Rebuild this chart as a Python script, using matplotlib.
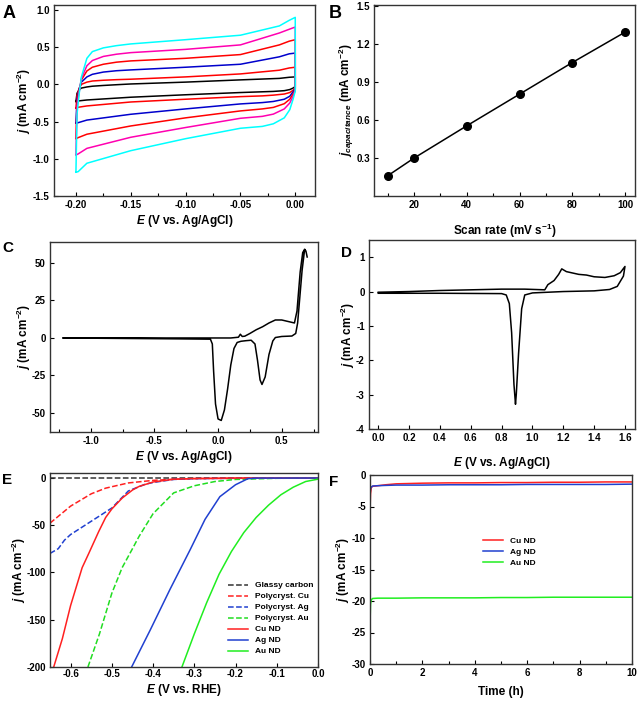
import matplotlib
matplotlib.use("Agg")
import matplotlib.pyplot as plt
from matplotlib.ticker import MultipleLocator, FormatStrFormatter

plt.rcParams["font.family"] = "Liberation Sans"
plt.rcParams["font.weight"] = "bold"
plt.rcParams["axes.unicode_minus"] = False
plt.rcParams["mathtext.fontset"] = "custom"
plt.rcParams["mathtext.rm"] = "Liberation Sans:bold"
plt.rcParams["mathtext.it"] = "Liberation Sans:bold:italic"
plt.rcParams["mathtext.bf"] = "Liberation Sans:bold"

# === Panel A: CVs at 10..100 mV/s (upper branch -0.2 -> 0, lower branch 0 -> -0.2) ===
A_COLORS = ["black", "red", "#0000cc", "red", "#ff00b0", "#00ffff"]
A_UP_X = [-0.2, -0.199, -0.197, -0.195, -0.19, -0.185, -0.175, -0.163, -0.15,
          -0.1, -0.05, -0.0145, -0.0055, 0.0]
A_UP_Y = [
    [-0.23, -0.12, -0.07, -0.05, -0.035, -0.025, -0.015, -0.005, 0.005, 0.03, 0.06, 0.08, 0.095, 0.10],
    [-0.32, -0.15, -0.05, 0.0, 0.03, 0.045, 0.055, 0.063, 0.069, 0.10, 0.14, 0.19, 0.22, 0.23],
    [-0.52, -0.20, -0.06, 0.03, 0.10, 0.135, 0.165, 0.183, 0.194, 0.23, 0.27, 0.37, 0.41, 0.42],
    [-0.72, -0.25, -0.08, 0.06, 0.18, 0.23, 0.27, 0.298, 0.315, 0.35, 0.40, 0.53, 0.58, 0.60],
    [-0.94, -0.30, -0.10, 0.08, 0.25, 0.32, 0.375, 0.405, 0.426, 0.47, 0.53, 0.69, 0.74, 0.77],
    [-1.18, -0.40, -0.12, 0.10, 0.35, 0.44, 0.49, 0.52, 0.543, 0.60, 0.66, 0.785, 0.86, 0.90],
]
A_LOW_X = [0.0, -0.002, -0.005, -0.01, -0.02, -0.03, -0.05, -0.1, -0.15, -0.19, -0.198, -0.2]
A_LOW_Y = [
    [-0.03, -0.05, -0.07, -0.085, -0.095, -0.10, -0.11, -0.14, -0.173, -0.21, -0.223, -0.23],
    [-0.05, -0.08, -0.11, -0.13, -0.145, -0.155, -0.165, -0.20, -0.237, -0.29, -0.308, -0.32],
    [-0.06, -0.10, -0.16, -0.20, -0.23, -0.245, -0.263, -0.33, -0.402, -0.48, -0.515, -0.52],
    [-0.07, -0.13, -0.20, -0.26, -0.31, -0.33, -0.357, -0.45, -0.559, -0.67, -0.716, -0.73],
    [-0.08, -0.16, -0.25, -0.33, -0.40, -0.43, -0.456, -0.58, -0.711, -0.86, -0.935, -0.95],
    [-0.09, -0.20, -0.34, -0.45, -0.53, -0.565, -0.59, -0.73, -0.891, -1.06, -1.173, -1.18],
]

# === Panel B: capacitive current vs scan rate ===
B_RATE = [10, 20, 40, 60, 80, 100]
B_JCAP = [0.16, 0.30, 0.555, 0.805, 1.055, 1.295]

# === Panel C: CV (wide window) ===
C_E = [0.70, 0.69, 0.68, 0.665, 0.645, 0.62, 0.60, 0.55, 0.50, 0.45, 0.40, 0.35, 0.30,
       0.25, 0.21, 0.19, 0.175, 0.16, 0.10, -0.2, -1.22,
       -0.3, -0.06, -0.045, -0.035, -0.02, 0.0, 0.025, 0.05, 0.075, 0.10, 0.125, 0.15, 0.18,
       0.22, 0.26, 0.29, 0.31, 0.33, 0.345, 0.37, 0.40, 0.43, 0.45, 0.50, 0.58, 0.61,
       0.625, 0.64, 0.66, 0.68]
C_J = [54, 58, 59, 57, 44, 18, 10, 11, 12, 12, 10, 7.5, 5.5,
       3, 1.2, 1.0, 2.5, 0.5, 0.0, 0.0, 0.0,
       -0.6, -0.8, -4, -22, -44, -54, -55, -48, -34, -18, -7, -3, -2.2,
       -1.8, -1.5, -4, -15, -28, -31, -26, -11, -2, 0.3, 1.0, 1.3, 3,
       10, 25, 45, 59]

# === Panel D: CV ===
D_E = [0.0, 0.2, 0.4, 0.6, 0.8, 0.95, 1.08, 1.10, 1.14, 1.17, 1.19, 1.22, 1.30, 1.35,
       1.40, 1.47, 1.53, 1.57, 1.60,
       1.59, 1.55, 1.50, 1.40, 1.20, 1.00, 0.95, 0.93, 0.91, 0.895, 0.89, 0.88, 0.865,
       0.85, 0.83, 0.80, 0.40, 0.0]
D_J = [-0.02, 0.0, 0.03, 0.05, 0.07, 0.07, 0.05, 0.20, 0.32, 0.50, 0.66, 0.58, 0.50, 0.48,
       0.43, 0.41, 0.46, 0.55, 0.73,
       0.45, 0.15, 0.06, 0.02, 0.0, -0.04, -0.10, -0.50, -1.80, -3.0, -3.28, -2.70, -1.20,
       -0.35, -0.10, -0.06, -0.05, -0.05]

# === Panel E: LSVs ===
E_LABELS = ["Glassy carbon", "Polycryst. Cu", "Polycryst. Ag", "Polycryst. Au",
            "Cu ND", "Ag ND", "Au ND"]
E_COLORS = ["#333333", "#ff2020", "#2040d0", "#20dd20", "#ff2020", "#2040d0", "#20ee20"]
E_STYLES = ["--", "--", "--", "--", "-", "-", "-"]
E_X = [
    [-0.65, -0.4, 0.0],
    [-0.65, -0.6, -0.55, -0.515, -0.46, -0.4, -0.35, -0.3, -0.2, 0.0],
    [-0.65, -0.63, -0.625, -0.615, -0.6, -0.55, -0.5, -0.46, -0.42, -0.4, -0.35, -0.3, -0.2, 0.0],
    [-0.558, -0.53, -0.5, -0.475, -0.45, -0.434, -0.4, -0.35, -0.3, -0.25, -0.2, -0.1, 0.0],
    [-0.641, -0.62, -0.6, -0.572, -0.556, -0.532, -0.515, -0.5, -0.475, -0.45, -0.434, -0.4, -0.35, -0.3, -0.2, 0.0],
    [-0.452, -0.407, -0.359, -0.31, -0.274, -0.238, -0.20, -0.17, -0.15, 0.0],
    [-0.33, -0.3, -0.27, -0.24, -0.21, -0.18, -0.15, -0.12, -0.09, -0.06, -0.03, 0.0],
]
E_J = [
    [-0.3, -0.3, -0.3],
    [-48, -30, -17, -11, -5.5, -2.8, -1.6, -1.0, -0.6, -0.3],
    [-80, -75, -72, -66, -60, -46, -32, -14, -7, -5, -1.8, -1.0, -0.6, -0.3],
    [-200, -165, -122, -95, -75, -62, -38, -16, -8.5, -4, -1.8, -0.6, -0.3],
    [-200, -170, -135, -95, -80, -57, -42, -33, -21.5, -13, -9.2, -4.5, -1.6, -0.8, -0.3, -0.3],
    [-200, -161, -118, -76, -44, -20, -7.4, -1.0, -0.4, -0.3],
    [-200, -165, -132, -102, -78, -58, -42, -29, -18, -10, -4, -1.5],
]

# === Panel F: chronoamperometry ===
F_LABELS = ["Cu ND", "Ag ND", "Au ND"]
F_COLORS = ["#ff2020", "#2040d0", "#20ee20"]
F_T = [0, 0.02, 0.05, 0.1, 0.3, 0.6, 1, 2, 3, 4, 5, 6, 7, 8, 9, 10]
F_J = [
    [-5.8, -3.0, -2.0, -1.8, -1.7, -1.55, -1.4, -1.3, -1.25, -1.25, -1.2, -1.2, -1.15, -1.15, -1.1, -1.1],
    [-3.2, -2.2, -1.9, -1.75, -1.7, -1.65, -1.6, -1.6, -1.55, -1.55, -1.55, -1.5, -1.5, -1.5, -1.5, -1.45],
    [-23.8, -20.5, -19.8, -19.6, -19.55, -19.55, -19.55, -19.5, -19.5, -19.5, -19.45, -19.45, -19.4, -19.4, -19.4, -19.4],
]

J_LABEL = r"$\mathit{j}$ (mA cm$^{-2}$)"
E_AGCL = r"$\mathit{E}$ (V vs. Ag/AgCl)"

W, H = 640, 705


def add_axes(fig, left, top, right, bottom):
    return fig.add_axes([left / W, 1 - bottom / H, (right - left) / W, (bottom - top) / H])


def style(ax, xlabel, ylabel, xl_y, yl_x, xpad=3):
    for s in ax.spines.values():
        s.set_linewidth(1.0)
        s.set_color("#333333")
    ax.tick_params(which="both", direction="in", labelsize=7, pad=3, width=0.8)
    ax.tick_params(axis="x", which="both", pad=xpad)
    ax.tick_params(which="major", length=3)
    ax.tick_params(which="minor", length=2.5)
    ax.set_xlabel(xlabel, fontsize=8.5, fontweight="bold")
    ax.set_ylabel(ylabel, fontsize=8.5, fontweight="bold")
    ax.xaxis.set_label_coords(0.5, xl_y)
    ax.yaxis.set_label_coords(yl_x, 0.5)


def cv_legend(ax, anchor):
    ax.legend(loc="upper left", bbox_to_anchor=anchor, frameon=False,
              fontsize=6, handlelength=2.4, labelspacing=0.38, borderpad=0,
              borderaxespad=0, handletextpad=0.8)


fig = plt.figure(figsize=(W / 100, H / 100), dpi=100)

# --- A ---
ax = add_axes(fig, 54, 5, 315, 196)
for c, up, low in zip(A_COLORS, A_UP_Y, A_LOW_Y):
    ax.plot(A_UP_X + A_LOW_X, up + low, color=c, lw=1.1)
ax.set_xlim(-0.22, 0.018)
ax.set_ylim(-1.5, 1.066)
ax.xaxis.set_major_locator(MultipleLocator(0.05))
ax.xaxis.set_minor_locator(MultipleLocator(0.025))
ax.xaxis.set_major_formatter(FormatStrFormatter("%.2f"))
ax.yaxis.set_major_locator(MultipleLocator(0.5))
ax.yaxis.set_major_formatter(FormatStrFormatter("%.1f"))
style(ax, E_AGCL, J_LABEL, -0.09, -0.082)

# --- B ---
ax = add_axes(fig, 374, 5, 635, 196)
ax.plot(B_RATE, B_JCAP, color="black", lw=1.1, marker="o", ms=5.5)
ax.set_xlim(4.8, 103.8)
ax.set_ylim(0.0, 1.51)
ax.set_xticks([20, 40, 60, 80, 100])
ax.xaxis.set_minor_locator(MultipleLocator(10))
ax.set_yticks([0.3, 0.6, 0.9, 1.2, 1.5])
ax.yaxis.set_major_formatter(FormatStrFormatter("%.1f"))
style(ax, r"Scan rate (mV s$^{-1}$)",
      r"$\mathit{j}_{\mathit{capacitance}}$ (mA cm$^{-2}$)", -0.136, -0.07)

# --- C ---
ax = add_axes(fig, 50, 242, 318, 432)
ax.plot(C_E, C_J, color="black", lw=1.1)
ax.set_xlim(-1.32, 0.785)
ax.set_ylim(-62.7, 64)
ax.xaxis.set_major_locator(MultipleLocator(0.5))
ax.xaxis.set_minor_locator(MultipleLocator(0.25))
ax.xaxis.set_major_formatter(FormatStrFormatter("%.1f"))
ax.set_yticks([-50, -25, 0, 25, 50])
style(ax, E_AGCL, J_LABEL, -0.089, -0.064)

# --- D ---
ax = add_axes(fig, 369, 240, 635, 429)
ax.plot(D_E, D_J, color="black", lw=1.1)
ax.set_xlim(-0.06, 1.665)
ax.set_ylim(-4, 1.5)
ax.xaxis.set_major_locator(MultipleLocator(0.2))
ax.xaxis.set_major_formatter(FormatStrFormatter("%.1f"))
ax.set_yticks([-4, -3, -2, -1, 0, 1])
style(ax, E_AGCL, J_LABEL, -0.138, -0.045)

# --- E ---
ax = add_axes(fig, 50, 473, 318, 667)
for x, y, c, ls, lab in zip(E_X, E_J, E_COLORS, E_STYLES, E_LABELS):
    ax.plot(x, y, color=c, ls=ls, lw=1.1, label=lab)
ax.set_xlim(-0.65, 0.0)
ax.set_ylim(-200, 5)
ax.xaxis.set_major_locator(MultipleLocator(0.1))
ax.xaxis.set_major_formatter(FormatStrFormatter("%.1f"))
ax.set_yticks([-200, -150, -100, -50, 0])
style(ax, r"$\mathit{E}$ (V vs. RHE)", J_LABEL, -0.075, -0.083, xpad=1.5)
cv_legend(ax, (0.664, 0.44))

# --- F ---
ax = add_axes(fig, 370, 475, 632, 664)
for y, c, lab in zip(F_J, F_COLORS, F_LABELS):
    ax.plot(F_T, y, color=c, lw=1.1, label=lab)
ax.set_xlim(0, 10)
ax.set_ylim(-30, 0)
ax.xaxis.set_major_locator(MultipleLocator(2))
ax.xaxis.set_minor_locator(MultipleLocator(1))
ax.yaxis.set_major_locator(MultipleLocator(5))
style(ax, "Time (h)", J_LABEL, -0.116, -0.067)
cv_legend(ax, (0.431, 0.672))

# --- panel letters ---
for lab, x, y, fs in [("A", 3, 5, 13), ("B", 329, 5, 13), ("C", 2, 241, 11),
                      ("D", 341, 246, 11), ("E", 2, 473, 11), ("F", 329, 475, 11)]:
    fig.text(x / W, 1 - y / H, lab, fontsize=fs, fontweight="bold", va="top", ha="left")

fig.savefig("out.png", dpi=100)
